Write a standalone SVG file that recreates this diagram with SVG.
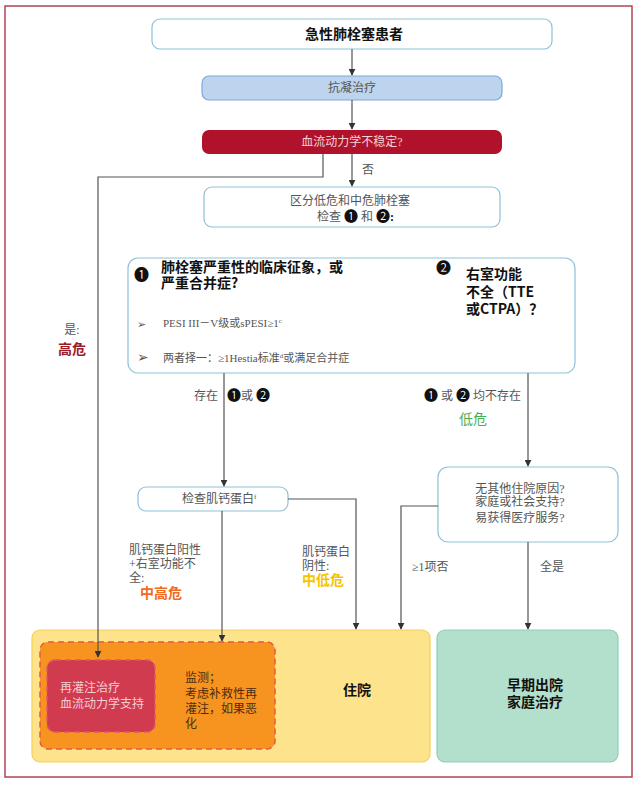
<svg xmlns="http://www.w3.org/2000/svg" width="640" height="786" viewBox="0 0 640 786">
<style>
.box{fill:#fff;stroke:#8ec1da;stroke-width:1.2}
.t{font-family:"Liberation Serif","Noto Sans CJK SC",serif;font-size:12px;fill:#555}
.b{font-family:"Noto Sans CJK SC",sans-serif;font-weight:bold;font-size:14px;fill:#111}
.c{font-family:"Noto Sans CJK SC",sans-serif;font-size:15px;fill:#111}
.ln{fill:none;stroke:#555;stroke-width:1.2}
</style>
<defs>
<marker id="ah" viewBox="0 0 10 10" refX="9" refY="5" markerWidth="7" markerHeight="7" orient="auto" markerUnits="userSpaceOnUse">
<path d="M0,0 L10,5 L0,10 z" fill="#333"/>
</marker>
</defs>
<rect x="5" y="6" width="627" height="771" fill="#fff" stroke="#b34455" stroke-width="1.5"/>

<g id="n-hosp">
<rect x="32" y="630" width="398" height="132" rx="8" fill="#fde38c" stroke="#f5cf5a" stroke-width="1.2"/>
<text class="b" x="357" y="695" text-anchor="middle">住院</text>
</g>
<g id="n-monitor">
<rect x="40" y="642" width="235" height="107" rx="8" fill="#f7941f" stroke="#e05a4a" stroke-width="1.5" stroke-dasharray="6,4"/>
<text class="t" fill="#4a2d10" style="fill:#4a2d10"><tspan x="185" y="682">监测；</tspan><tspan x="185" y="698">考虑补救性再</tspan><tspan x="185" y="713">灌注，如果恶</tspan><tspan x="185" y="728">化</tspan></text>
</g>
<g id="n-reperf">
<rect x="47" y="660" width="108" height="72" rx="8" fill="#d13b50" stroke="#e2566a" stroke-width="1.5" stroke-dasharray="6,4"/>
<text class="t" style="fill:#f6cfd2"><tspan x="60" y="692">再灌注治疗</tspan><tspan x="60" y="708">血流动力学支持</tspan></text>
</g>
<g id="n-early">
<rect x="437" y="630" width="181" height="132" rx="8" fill="#b3dfcd" stroke="#92cdb4" stroke-width="1.2"/>
<text class="b" x="535" y="690" text-anchor="middle">早期出院</text>
<text class="b" x="535" y="707" text-anchor="middle">家庭治疗</text>
</g>

<g id="n-patient">
<rect class="box" x="152" y="19" width="400" height="30" rx="8"/>
<text class="b" x="354" y="39" text-anchor="middle">急性肺栓塞患者</text>
</g>
<g id="n-anticoag">
<rect x="202" y="76" width="300" height="24" rx="7" fill="#bdd4ef" stroke="#7fa7d8" stroke-width="1.2"/>
<text class="t" x="352" y="92" text-anchor="middle">抗凝治疗</text>
</g>
<g id="n-unstable">
<rect x="202" y="130" width="300" height="24" rx="7" fill="#b0122b"/>
<text class="t" x="352" y="146" text-anchor="middle" style="fill:#f3d3d6">血流动力学不稳定?</text>
</g>
<g id="n-distinguish">
<rect class="box" x="204" y="187" width="296" height="40" rx="8"/>
<text class="t" x="350" y="205" text-anchor="middle">区分低危和中危肺栓塞</text>
<text class="t" x="317" y="221">检查 <tspan class="c" style="font-size:14px">❶</tspan> 和 <tspan class="c" style="font-size:14px">❷</tspan><tspan style="font-weight:bold;fill:#111">:</tspan></text>
</g>
<g id="n-criteria">
<rect class="box" x="128" y="258" width="447" height="115" rx="10"/>
<text class="c" x="134" y="280">❶</text>
<text class="b" x="161" y="272">肺栓塞严重性的临床征象，或</text>
<text class="b" x="161" y="288">严重合并症?</text>
<text class="c" x="436" y="273">❷</text>
<text class="b" x="466" y="279">右室功能</text>
<text class="b" x="466" y="297">不全（TTE</text>
<text class="b" x="466" y="314">或CTPA）？</text>
<text class="t" x="137" y="328" style="font-size:11px">➢</text>
<text class="t" x="163" y="327" style="font-size:11px">PESI III－V级或sPESI≥1<tspan dy="-4" style="font-size:7px">c</tspan></text>
<text class="t" x="137" y="362" style="font-size:14px">➢</text>
<text class="t" x="163" y="362" style="font-size:11px">两者择一：≥1Hestia标准<tspan dy="-4" style="font-size:7px">d</tspan><tspan dy="4">或满足合并症</tspan></text>
</g>
<g id="n-troponin">
<rect class="box" x="138" y="487" width="150" height="24" rx="8"/>
<text class="t" x="182" y="503">检查肌钙蛋白<tspan dy="-4" style="font-size:7px">f</tspan></text>
</g>
<g id="n-social">
<rect class="box" x="438" y="467" width="180" height="75" rx="10"/>
<text class="t" x="520" y="493" text-anchor="middle">无其他住院原因?</text>
<text class="t" x="520" y="506" text-anchor="middle">家庭或社会支持?</text>
<text class="t" x="520" y="522" text-anchor="middle">易获得医疗服务?</text>
</g>

<g id="connectors">
<path class="ln" d="M352,49 V75" marker-end="url(#ah)"/>
<path class="ln" d="M352,100 V129" marker-end="url(#ah)"/>
<path class="ln" d="M352,154 V186" marker-end="url(#ah)"/>
<path class="ln" d="M323,154 V177 H98 V657" marker-end="url(#ah)"/>
<path class="ln" d="M224,373 V486" marker-end="url(#ah)"/>
<path class="ln" d="M528,373 V466" marker-end="url(#ah)"/>
<path class="ln" d="M222,511 V641" marker-end="url(#ah)"/>
<path class="ln" d="M288,499 H356 V629" marker-end="url(#ah)"/>
<path class="ln" d="M438,506 H401 V629" marker-end="url(#ah)"/>
<path class="ln" d="M528,542 V629" marker-end="url(#ah)"/>
</g>

<g id="labels">
<text class="t" x="362" y="174">否</text>
<text class="t" x="72" y="334" text-anchor="middle">是:</text>
<text class="b" x="72" y="354" text-anchor="middle" style="fill:#9b1b2a">高危</text>
<text class="t" x="194" y="400">存在</text>
<text class="t" x="227" y="400"><tspan class="c" style="font-size:14px">❶</tspan>或 <tspan class="c" style="font-size:14px">❷</tspan></text>
<text class="t" x="424" y="400"><tspan class="c" style="font-size:14px">❶</tspan> 或 <tspan class="c" style="font-size:14px">❷</tspan> 均不存在</text>
<text class="b" x="473" y="424" text-anchor="middle" style="fill:#4caf50;font-weight:normal">低危</text>
<text class="t"><tspan x="129" y="554">肌钙蛋白阳性</tspan><tspan x="129" y="568">+右室功能不</tspan><tspan x="129" y="582">全:</tspan></text>
<text class="b" x="140" y="598" style="fill:#f26a21">中高危</text>
<text class="t"><tspan x="302" y="556">肌钙蛋白</tspan><tspan x="302" y="570">阴性:</tspan></text>
<text class="b" x="302" y="585" style="fill:#f5c400">中低危</text>
<text class="t" x="412" y="571">≥1项否</text>
<text class="t" x="540" y="571">全是</text>
</g>
</svg>
